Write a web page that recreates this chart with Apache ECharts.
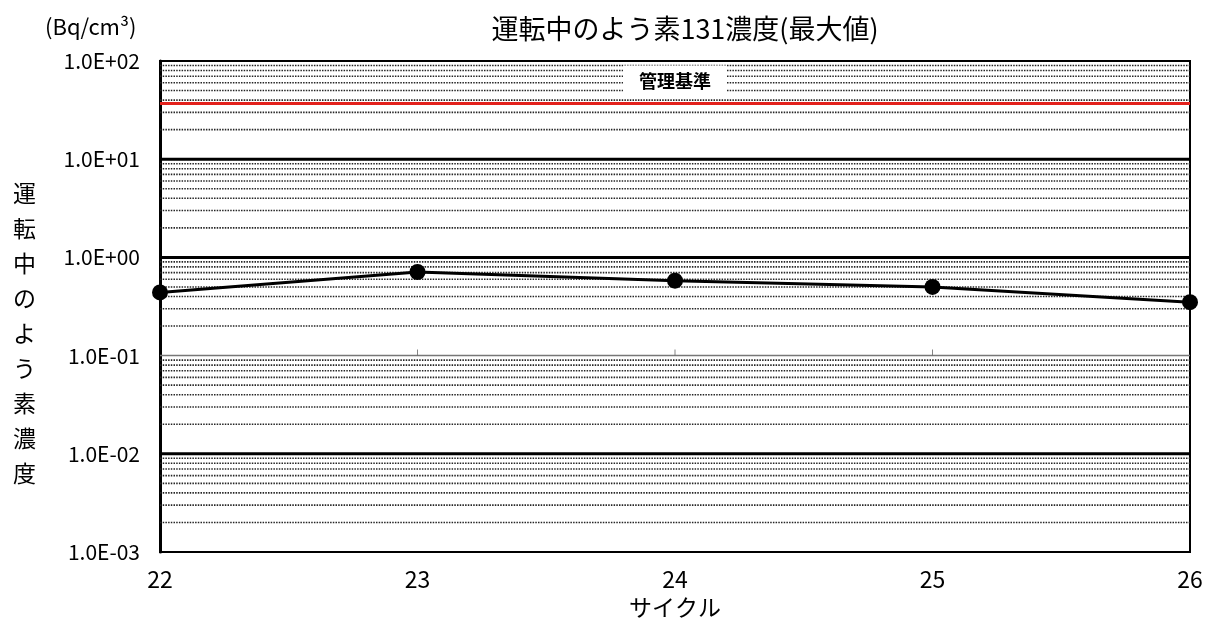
<!DOCTYPE html>
<html>
<head>
<meta charset="utf-8">
<script src="https://cdn.jsdelivr.net/npm/echarts@6/dist/echarts.min.js"></script>
<style>
  html, body { margin: 0; padding: 0; background: #fff; }
  #chart { width: 1214px; height: 628px; }
</style>
</head>
<body>
<div id="chart"></div>
<script>
// Operating cycles and maximum I-131 concentration per cycle (Bq/cm3)
const cycles = ['22', '23', '24', '25', '26'];
const iodine131Max = [0.44, 0.71, 0.58, 0.50, 0.35];

// Management standard
const managementLimit = 37;
const managementLabel = '管理基準';

// Log axis range (decade exponents)
const minExp = -3;
const maxExp = 2;

// Decade lines drawn heavy / light
const heavyDecades = [10, 1, 0.01];
const lightDecades = [0.1];
const minorMultipliers = [2, 3, 4, 5, 6, 7, 8, 9];

// Small tick marks sitting on the 0.1 line
const tickCycles = ['23', '24', '25'];

const titleText = '運転中のよう素131濃度(最大値)';
const unitText = '(Bq/cm³)';
const yNameChars = ['運', '転', '中', 'の', 'よ', 'う', '素', '濃', '度'];
const xName = 'サイクル';

const FONT = '"Noto Sans CJK JP", "Noto Sans", sans-serif';

function sciLabel(v) {
  const e = Math.round(Math.log10(v));
  const sign = e < 0 ? '-' : '+';
  const abs = Math.abs(e);
  return '1.0E' + sign + (abs < 10 ? '0' : '') + abs;
}

// Horizontal grid lines: [value, kind]
const gridLines = [];
for (let e = minExp; e < maxExp; e++) {
  minorMultipliers.forEach(m => gridLines.push([m * Math.pow(10, e), 0]));
}
lightDecades.forEach(v => gridLines.push([v, 1]));
heavyDecades.forEach(v => gridLines.push([v, 2]));

const lineKinds = [
  { stroke: '#262626', lineWidth: 1.6, lineDash: [1.5, 1.2] },
  { stroke: '#777777', lineWidth: 1.5, lineDash: null },
  { stroke: '#000000', lineWidth: 3, lineDash: null }
];

function renderGridLine(params, api) {
  const v = api.value(0);
  const kind = lineKinds[api.value(1)];
  const a = api.coord([0, v]);
  const b = api.coord([cycles.length - 1, v]);
  return {
    type: 'line',
    shape: { x1: a[0], y1: a[1], x2: b[0], y2: b[1] },
    style: {
      stroke: kind.stroke,
      lineWidth: kind.lineWidth,
      lineDash: kind.lineDash,
      fill: null
    },
    silent: true
  };
}

const chart = echarts.init(document.getElementById('chart'));
chart.setOption({
  animation: false,
  backgroundColor: '#fff',
  title: {
    text: titleText,
    left: 680,
    textAlign: 'center',
    top: 10,
    textStyle: { fontFamily: FONT, fontSize: 27, fontWeight: 'normal', color: '#000' }
  },
  grid: {
    left: 160, right: 24, top: 61, bottom: 76,
    show: true, borderColor: '#000', borderWidth: 2, backgroundColor: 'transparent'
  },
  xAxis: {
    type: 'category',
    data: cycles,
    boundaryGap: false,
    name: xName,
    nameLocation: 'middle',
    nameGap: 44,
    nameTextStyle: { fontFamily: FONT, fontSize: 23, color: '#000' },
    axisLine: { lineStyle: { color: '#000', width: 2 } },
    axisTick: { show: false },
    axisLabel: { fontFamily: FONT, fontSize: 23, color: '#000', margin: 16 },
    splitLine: { show: false }
  },
  yAxis: {
    type: 'log',
    logBase: 10,
    min: Math.pow(10, minExp),
    max: Math.pow(10, maxExp),
    interval: 1,
    axisLine: { show: true, lineStyle: { color: '#000', width: 3 } },
    axisTick: { show: false },
    axisLabel: {
      fontFamily: FONT, fontSize: 21, color: '#000', margin: 20,
      formatter: sciLabel
    },
    splitLine: { show: false },
    minorTick: { show: false },
    minorSplitLine: { show: false }
  },
  graphic: [
    {
      type: 'text', left: 45, top: 16,
      style: { text: unitText, fontFamily: FONT, fontSize: 22, fill: '#000' }
    },
    {
      type: 'text', left: 13, top: 176,
      style: {
        text: yNameChars.join('\n'),
        fontFamily: FONT, fontSize: 23, lineHeight: 35, fill: '#000'
      }
    }
  ],
  series: [
    {
      name: 'grid',
      type: 'custom',
      silent: true,
      z: 1,
      clip: false,
      renderItem: renderGridLine,
      data: gridLines
    },
    {
      name: 'limit',
      type: 'line',
      data: [],
      silent: true,
      z: 3,
      markLine: {
        silent: true,
        symbol: 'none',
        animation: false,
        lineStyle: { color: '#e3211c', width: 3, type: 'solid' },
        label: {
          show: true,
          position: 'middle',
          distance: 6,
          formatter: managementLabel,
          fontFamily: FONT,
          fontSize: 18,
          fontWeight: 'bold',
          color: '#000',
          backgroundColor: '#fff',
          padding: [7, 16]
        },
        data: [{ yAxis: managementLimit }]
      }
    },
    {
      name: 'ticks',
      type: 'scatter',
      silent: true,
      z: 2,
      symbol: 'rect',
      symbolSize: [1, 6],
      symbolOffset: [0, -3],
      itemStyle: { color: '#666' },
      data: tickCycles.map(c => [c, 0.1])
    },
    {
      name: 'I-131',
      type: 'line',
      z: 5,
      data: iodine131Max,
      symbol: 'circle',
      symbolSize: 16,
      lineStyle: { color: '#000', width: 3 },
      itemStyle: { color: '#000' }
    }
  ]
});
</script>
</body>
</html>
